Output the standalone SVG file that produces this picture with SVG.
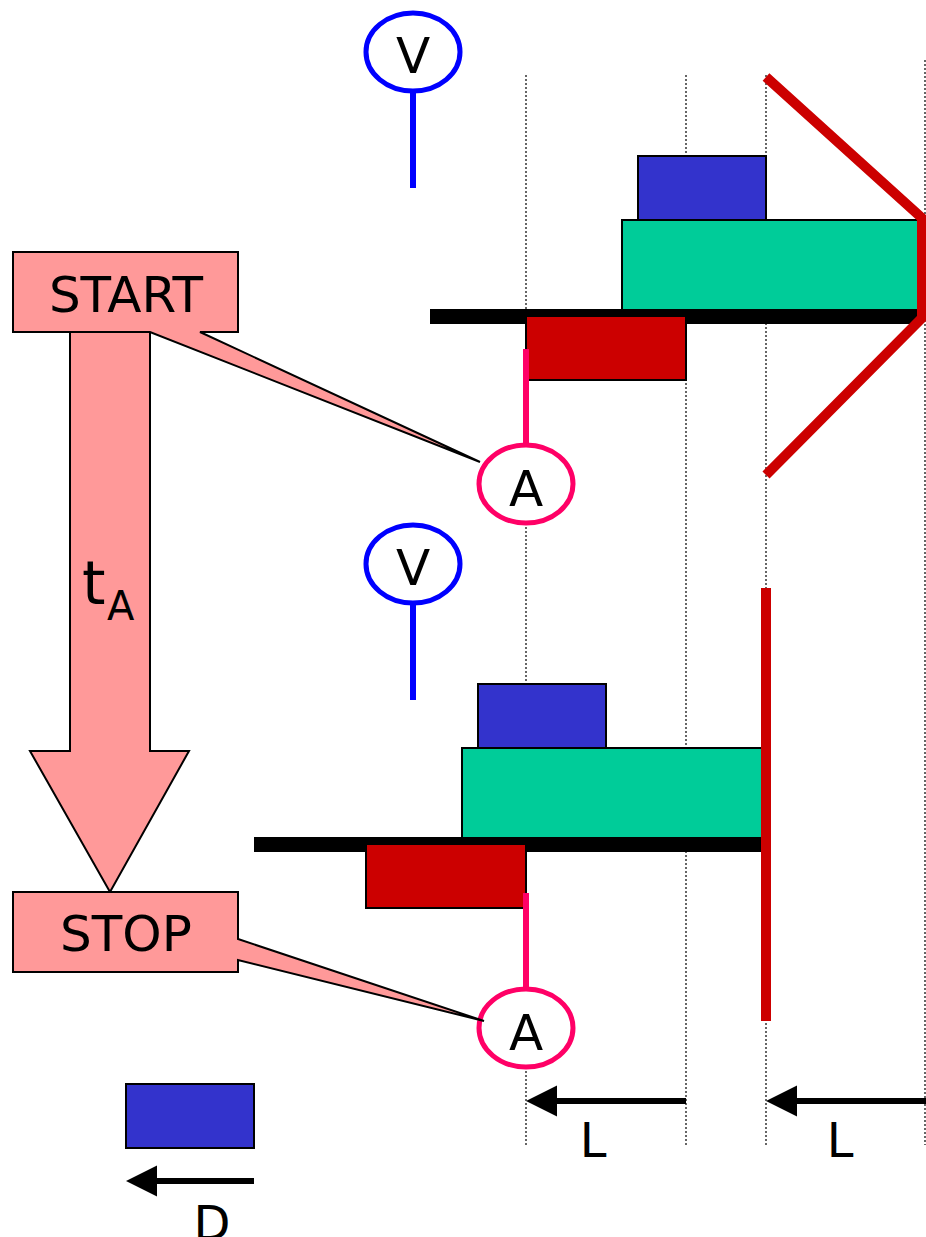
<svg xmlns="http://www.w3.org/2000/svg" width="926" height="1237" viewBox="0 0 926 1237">
<style>
.t{font-family:"DejaVu Sans","Liberation Sans",sans-serif;fill:#000}
.box{fill:#FF9999;stroke:#000;stroke-width:2}
.blue{fill:#3333CC;stroke:#000;stroke-width:2}
.green{fill:#00CC99;stroke:#000;stroke-width:2}
.red{fill:#CC0000;stroke:#000;stroke-width:2}
.dot{stroke:#000;stroke-width:1.2;stroke-dasharray:2,2;fill:none}
.probeV{fill:#fff;stroke:#0000FF;stroke-width:5}
.probeA{fill:#fff;stroke:#FF0066;stroke-width:5}
</style>
<defs>
<marker id="ah" viewBox="0 0 10 10" refX="0" refY="5" markerWidth="5.2" markerHeight="5.2" orient="auto-start-reverse" markerUnits="strokeWidth">
<path d="M0,0 L10,5 L0,10 z" fill="#000"/>
</marker>
</defs>
<g id="gridlines">
<line class="dot" x1="526" y1="75" x2="526" y2="1145"/>
<line class="dot" x1="686" y1="75" x2="686" y2="1145"/>
<line class="dot" x1="766" y1="75" x2="766" y2="1145"/>
<line class="dot" x1="925" y1="60" x2="925" y2="1145"/>
</g>
<g id="top-config">
<rect class="blue" x="638" y="156" width="128" height="64"/>
<rect class="green" x="622" y="220" width="300" height="90"/>
<rect x="430" y="309" width="492" height="15" fill="#000"/>
<rect class="red" x="526" y="316" width="160" height="64"/>
<polyline points="766,77 922,218 922,318 766,475" fill="none" stroke="#CC0000" stroke-width="10"/>
</g>
<g id="bottom-config">
<rect class="blue" x="478" y="684" width="128" height="64"/>
<rect class="green" x="462" y="748" width="300" height="90"/>
<rect x="254" y="837" width="508" height="15" fill="#000"/>
<rect class="red" x="366" y="844" width="160" height="64"/>
<line x1="766" y1="588" x2="766" y2="1021" stroke="#CC0000" stroke-width="10"/>
</g>
<g id="probe-V1">
<line x1="413" y1="92" x2="413" y2="188" stroke="#0000FF" stroke-width="6"/>
<ellipse class="probeV" cx="413" cy="52" rx="47" ry="39"/>
<text class="t" x="413" y="73" font-size="50" text-anchor="middle">V</text>
</g>
<g id="probe-V2">
<line x1="413" y1="604" x2="413" y2="700" stroke="#0000FF" stroke-width="6"/>
<ellipse class="probeV" cx="413" cy="564" rx="47" ry="39"/>
<text class="t" x="413" y="585" font-size="50" text-anchor="middle">V</text>
</g>
<g id="connectors">
<line x1="526" y1="349" x2="526" y2="445" stroke="#FF0066" stroke-width="6"/>
<line x1="526" y1="893" x2="526" y2="989" stroke="#FF0066" stroke-width="6"/>
<line x1="686" y1="1101" x2="557" y2="1101" stroke="#000" stroke-width="6" marker-end="url(#ah)"/>
<line x1="926" y1="1101" x2="797" y2="1101" stroke="#000" stroke-width="6" marker-end="url(#ah)"/>
<line x1="254" y1="1181" x2="157" y2="1181" stroke="#000" stroke-width="6" marker-end="url(#ah)"/>
</g>
<g id="probe-A1">
<ellipse class="probeA" cx="526" cy="484" rx="47" ry="39"/>
<text class="t" x="526" y="506" font-size="50" text-anchor="middle">A</text>
</g>
<g id="probe-A2">
<ellipse class="probeA" cx="526" cy="1028" rx="47" ry="39"/>
<text class="t" x="526" y="1050" font-size="50" text-anchor="middle">A</text>
</g>
<g id="time-arrow">
<polygon class="box" points="70,332 150,332 150,751 189,751 110,892 30,751 70,751"/>
<text class="t" x="82" y="604" font-size="60">t</text>
<text class="t" x="107" y="620" font-size="40">A</text>
</g>
<g id="start">
<polygon class="box" points="13,252 238,252 238,332 200,332 480,462 150,332 13,332"/>
<text class="t" x="126" y="312" font-size="50" text-anchor="middle">START</text>
</g>
<g id="stop">
<polygon class="box" points="13,892 238,892 238,939 484,1021 238,960 238,972 13,972"/>
<text class="t" x="126" y="951" font-size="50" text-anchor="middle">STOP</text>
</g>
<g id="legend">
<rect class="blue" x="126" y="1084" width="128" height="64"/>
<text class="t" x="593" y="1157" font-size="48" text-anchor="middle">L</text>
<text class="t" x="840" y="1157" font-size="48" text-anchor="middle">L</text>
<text class="t" x="212" y="1240" font-size="48" text-anchor="middle">D</text>
</g>
</svg>
